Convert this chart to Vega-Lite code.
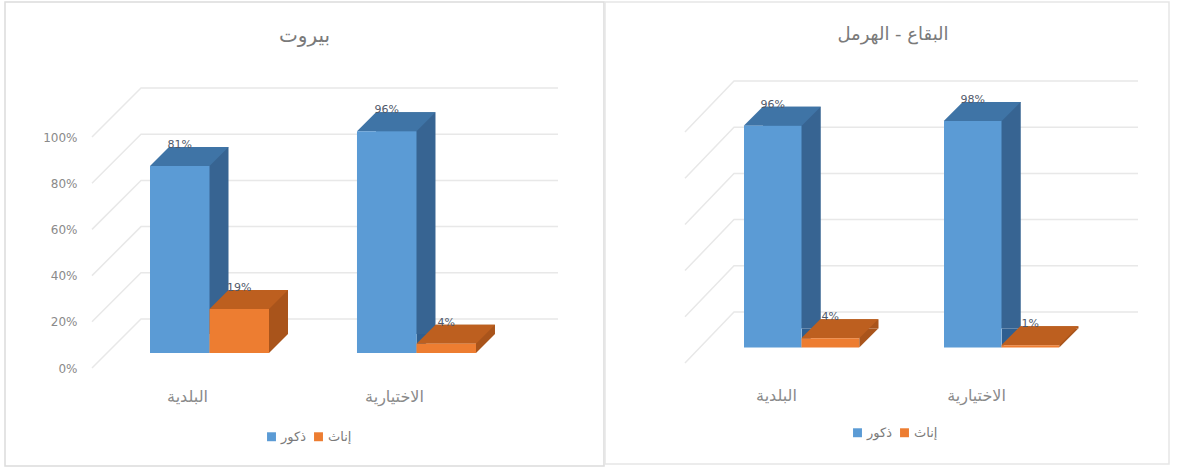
{
"$schema":"https://vega.github.io/schema/vega-lite/v6.json",
"background":"white",
"padding":{"left":4,"top":1,"right":0,"bottom":0},
"autosize":{"type":"pad"},
"spacing":1,
"bounds":"flush",
"config":{"view":{"stroke":"#dcdcdc","strokeWidth":1.5},"font":"DejaVu Sans"},
"hconcat":[
{"width":599,"height":464,
"title":{"text":"بيروت","font":"DejaVu Sans","fontSize":20,"fontWeight":"normal","color":"#7a7a7a","offset":-44,"anchor":"middle"},
"data":{"values":[
{"kind":"البلدية","gender":"ذكور","value":0.81},
{"kind":"البلدية","gender":"إناث","value":0.19},
{"kind":"الاختيارية","gender":"ذكور","value":0.96},
{"kind":"الاختيارية","gender":"إناث","value":0.04}]},
"resolve":{"scale":{"xOffset":"independent"}},
"layer":[
{"data":{"values":[{"tick":0},{"tick":0.2},{"tick":0.4},{"tick":0.6},{"tick":0.8},{"tick":1}]},
"mark":{"type":"point","shape":"M-2.125,0.15 L-1.635,-0.34 L2.535,-0.34","size":40000,"filled":false,"opacity":1,"color":"#e8e8e8","strokeWidth":1.5},
"encoding":{"y":{"field":"tick","type":"quantitative","scale":{"domain":[0,1],"range":[351,120]},"axis":{"values":[0,0.2,0.4,0.6,0.8,1],"format":".0%","title":null,"grid":false,"domain":false,"ticks":false,"labelPadding":0,"offset":-72,"labelOffset":15,"labelColor":"#8a8a8a","labelFontSize":12}}}},
{"mark":{"type":"bar","yOffset":-19,"y2Offset":-19},
"encoding":{"x":{"field":"kind","type":"nominal","sort":["البلدية","الاختيارية"],"scale":{"range":[145,471],"paddingInner":0.425,"paddingOuter":0},"axis":{"title":null,"domain":false,"ticks":false,"labelAngle":0,"labelPadding":0,"offset":-78,"labelOffset":-22,"labelColor":"#8a8a8a","labelFontSize":16}},
"xOffset":{"field":"gender","type":"nominal","scale":{"domain":["ذكور","إناث"],"range":[19,138],"paddingInner":0,"paddingOuter":0}},
"y":{"field":"value","type":"quantitative"},
"color":{"condition":{"test":"datum.gender==='ذكور'","value":"#376492"},"value":"#a9541b"}}},
{"mark":{"type":"point","shape":"M0.2975,0 L0.4875,-0.19 L0.2975,-0.19 Z","size":40000,"filled":true,"opacity":1},
"encoding":{"x":{"field":"kind","type":"nominal","sort":["البلدية","الاختيارية"]},
"xOffset":{"field":"gender","type":"nominal","scale":{"type":"band","domain":["ذكور","إناث"],"paddingInner":0,"paddingOuter":0}},
"y":{"datum":0,"type":"quantitative"},
"color":{"condition":{"test":"datum.gender==='ذكور'","value":"#2f5f90"},"value":"#a9541b"}}},
{"mark":{"type":"point","shape":"M-0.2975,0 L0.2975,0 L0.4875,-0.19 L-0.1075,-0.19 Z","size":40000,"filled":true,"opacity":1},
"encoding":{"x":{"field":"kind","type":"nominal","sort":["البلدية","الاختيارية"]},
"xOffset":{"field":"gender","type":"nominal","scale":{"type":"band","domain":["ذكور","إناث"],"paddingInner":0,"paddingOuter":0}},
"y":{"field":"value","type":"quantitative"},
"color":{"condition":{"test":"datum.gender==='ذكور'","value":"#3f74a6"},"value":"#bd5f1f"}}},
{"mark":{"type":"bar"},
"encoding":{"x":{"field":"kind","type":"nominal","sort":["البلدية","الاختيارية"]},
"xOffset":{"field":"gender","type":"nominal","scale":{"type":"band","domain":["ذكور","إناث"],"paddingInner":0,"paddingOuter":0}},
"y":{"field":"value","type":"quantitative"},
"color":{"field":"gender","type":"nominal","scale":{"domain":["ذكور","إناث"],"range":["#5b9bd5","#ed7d31"]},"legend":{"orient":"none","legendX":260,"legendY":428,"direction":"horizontal","title":null,"symbolType":"square","symbolSize":80,"labelColor":"#7a7a7a","labelFontSize":13,"labelOffset":3,"columnPadding":6}}}},
{"mark":{"type":"text","yOffset":-21,"baseline":"middle","fontSize":11,"color":"#50596a"},
"encoding":{"x":{"field":"kind","type":"nominal","sort":["البلدية","الاختيارية"]},
"xOffset":{"field":"gender","type":"nominal","scale":{"type":"band","domain":["ذكور","إناث"],"paddingInner":0,"paddingOuter":0}},
"y":{"field":"value","type":"quantitative"},
"text":{"field":"value","type":"quantitative","format":".0%"}}}
]},
{"width":564,"height":462,
"view":{"stroke":"#e6e6e6"},
"title":{"text":"البقاع - الهرمل","font":"DejaVu Sans","fontSize":18,"fontWeight":"normal","color":"#7a7a7a","offset":-42,"anchor":"middle","dx":6},
"data":{"values":[
{"kind":"البلدية","gender":"ذكور","value":0.96},
{"kind":"البلدية","gender":"إناث","value":0.04},
{"kind":"الاختيارية","gender":"ذكور","value":0.98},
{"kind":"الاختيارية","gender":"إناث","value":0.01}]},
"resolve":{"scale":{"xOffset":"independent"}},
"layer":[
{"data":{"values":[{"tick":0},{"tick":0.2},{"tick":0.4},{"tick":0.6},{"tick":0.8},{"tick":1}]},
"mark":{"type":"point","shape":"M-2.02,0.155 L-1.53,-0.355 L2.51,-0.355","size":40000,"filled":false,"opacity":1,"color":"#e8e8e8","strokeWidth":1.5},
"encoding":{"y":{"field":"tick","type":"quantitative","scale":{"domain":[0,1],"range":[345.5,114.5]},"axis":null}}},
{"mark":{"type":"bar","yOffset":-19,"y2Offset":-19},
"encoding":{"x":{"field":"kind","type":"nominal","sort":["البلدية","الاختيارية"],"scale":{"range":[139,454],"paddingInner":0.425,"paddingOuter":0},"axis":{"title":null,"domain":false,"ticks":false,"labelAngle":0,"labelPadding":0,"offset":-77,"labelOffset":-25,"labelColor":"#8a8a8a","labelFontSize":16}},
"xOffset":{"field":"gender","type":"nominal","scale":{"domain":["ذكور","إناث"],"range":[19,134.5],"paddingInner":0,"paddingOuter":0}},
"y":{"field":"value","type":"quantitative"},
"color":{"condition":{"test":"datum.gender==='ذكور'","value":"#376492"},"value":"#a9541b"}}},
{"mark":{"type":"point","shape":"M0.29,0 L0.48,-0.19 L0.29,-0.19 Z","size":40000,"filled":true,"opacity":1},
"encoding":{"x":{"field":"kind","type":"nominal","sort":["البلدية","الاختيارية"]},
"xOffset":{"field":"gender","type":"nominal","scale":{"type":"band","domain":["ذكور","إناث"],"paddingInner":0,"paddingOuter":0}},
"y":{"datum":0,"type":"quantitative"},
"color":{"condition":{"test":"datum.gender==='ذكور'","value":"#2f5f90"},"value":"#a9541b"}}},
{"mark":{"type":"point","shape":"M-0.29,0 L0.29,0 L0.48,-0.19 L-0.1,-0.19 Z","size":40000,"filled":true,"opacity":1},
"encoding":{"x":{"field":"kind","type":"nominal","sort":["البلدية","الاختيارية"]},
"xOffset":{"field":"gender","type":"nominal","scale":{"type":"band","domain":["ذكور","إناث"],"paddingInner":0,"paddingOuter":0}},
"y":{"field":"value","type":"quantitative"},
"color":{"condition":{"test":"datum.gender==='ذكور'","value":"#3f74a6"},"value":"#bd5f1f"}}},
{"mark":{"type":"bar"},
"encoding":{"x":{"field":"kind","type":"nominal","sort":["البلدية","الاختيارية"]},
"xOffset":{"field":"gender","type":"nominal","scale":{"type":"band","domain":["ذكور","إناث"],"paddingInner":0,"paddingOuter":0}},
"y":{"field":"value","type":"quantitative"},
"color":{"field":"gender","type":"nominal","scale":{"domain":["ذكور","إناث"],"range":["#5b9bd5","#ed7d31"]},"legend":{"orient":"none","legendX":246,"legendY":424,"direction":"horizontal","title":null,"symbolType":"square","symbolSize":80,"labelColor":"#7a7a7a","labelFontSize":13,"labelOffset":3,"columnPadding":6}}}},
{"mark":{"type":"text","yOffset":-21,"baseline":"middle","fontSize":11,"color":"#50596a"},
"encoding":{"x":{"field":"kind","type":"nominal","sort":["البلدية","الاختيارية"]},
"xOffset":{"field":"gender","type":"nominal","scale":{"type":"band","domain":["ذكور","إناث"],"paddingInner":0,"paddingOuter":0}},
"y":{"field":"value","type":"quantitative"},
"text":{"field":"value","type":"quantitative","format":".0%"}}}
]}
],
"resolve":{"scale":{"color":"independent","x":"independent","y":"independent","xOffset":"independent"}}
}
